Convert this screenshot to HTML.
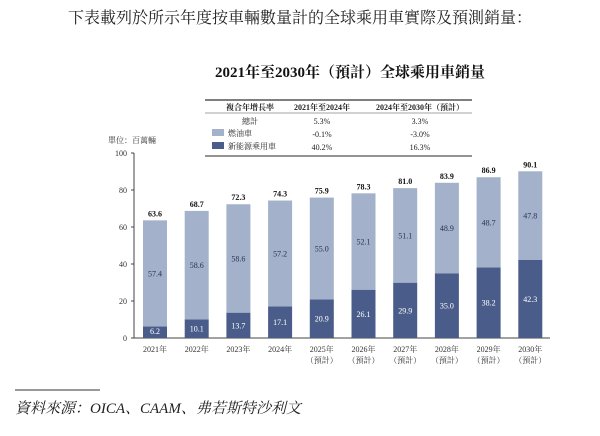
<!DOCTYPE html>
<html><head><meta charset="utf-8"><style>
body{margin:0;background:#fff;width:600px;height:431px;overflow:hidden;font-family:"Liberation Serif","Noto Serif CJK SC",serif;}
svg text{font-family:"Liberation Serif","Noto Serif CJK SC",serif;}
</style></head><body>
<svg width="600" height="431" xmlns="http://www.w3.org/2000/svg">
<text x="300" y="23" font-size="16" text-anchor="middle" fill="#222">下表載列於所示年度按車輛數量計的全球乘用車實際及預測銷量：</text>
<text x="350" y="77" font-size="15" font-weight="bold" text-anchor="middle" fill="#111">2021年至2030年（預計）全球乘用車銷量</text>
<g font-size="8" fill="#222">
<line x1="205" y1="100" x2="472" y2="100" stroke="#555" stroke-width="1.5"/>
<line x1="205" y1="113" x2="472" y2="113" stroke="#888" stroke-width="0.7"/>
<line x1="205" y1="156" x2="472" y2="156" stroke="#555" stroke-width="1.2"/>
<text x="250" y="110" text-anchor="middle" font-weight="bold">複合年增長率</text>
<text x="322" y="110" text-anchor="middle" font-weight="bold">2021年至2024年</text>
<text x="420" y="110" text-anchor="middle" font-weight="bold">2024年至2030年（預計）</text>
<text x="250" y="124" text-anchor="middle">總計</text><text x="322" y="124" text-anchor="middle">5.3%</text><text x="420" y="124" text-anchor="middle">3.3%</text>
<rect x="212" y="129" width="12" height="7" fill="#a3b1cb"/>
<text x="228" y="136">燃油車</text><text x="322" y="137" text-anchor="middle">-0.1%</text><text x="420" y="137" text-anchor="middle">-3.0%</text>
<rect x="212" y="142" width="12" height="7" fill="#4a5d8a"/>
<text x="228" y="149">新能源乘用車</text><text x="322" y="150" text-anchor="middle">40.2%</text><text x="420" y="150" text-anchor="middle">16.3%</text>
</g>
<text x="108" y="143" font-size="8" fill="#333">單位：百萬輛</text>
<g id="plot"></g>
<line x1="15" y1="390" x2="100" y2="390" stroke="#333" stroke-width="1"/>
<text x="15" y="413" font-size="15" font-style="italic" fill="#222">資料來源：OICA、CAAM、弗若斯特沙利文</text>
</svg>
<script>
const years=["2021年","2022年","2023年","2024年","2025年","2026年","2027年","2028年","2029年","2030年"];
const forecast=[false,false,false,false,true,true,true,true,true,true];
const nev=[6.2,10.1,13.7,17.1,20.9,26.1,29.9,35.0,38.2,42.3];
const fuel=[57.4,58.6,58.6,57.2,55.0,52.1,51.1,48.9,48.7,47.8];
const totals=["63.6","68.7","72.3","74.3","75.9","78.3","81.0","83.9","86.9","90.1"];
const yTicks=[0,20,40,60,80,100];
const NS="http://www.w3.org/2000/svg";
const g=document.getElementById('plot');
const y=v=>338-v*1.85, x=i=>155+i*41.7, bw=24;
function el(t,a,txt){const e=document.createElementNS(NS,t);for(const k in a)e.setAttribute(k,a[k]);if(txt!==undefined)e.textContent=txt;g.appendChild(e);return e;}
let ax=el('line',{x1:134,y1:y(100),x2:134,y2:338,stroke:'#444','stroke-width':1});


let xx=el('line',{x1:134,y1:338,x2:550,y2:338,stroke:'#444','stroke-width':1});


yTicks.forEach(v=>{
 el('line',{x1:131,x2:134,y1:y(v),y2:y(v),stroke:'#444'});
 const t=el('text',{x:127,y:y(v)+3,'font-size':8,'text-anchor':'end',fill:'#333'},v);
 
 
});
years.forEach((yr,i)=>{
 const cx=x(i);
 const d=el('rect',{x:cx-bw/2,y:y(nev[i]),width:bw,height:nev[i]*1.85,fill:'#4a5d8a'});
 
 
 const f=el('rect',{x:cx-bw/2,y:y(nev[i]+fuel[i]),width:bw,height:fuel[i]*1.85,fill:'#a3b1cb'});
 
 
 el('text',{x:cx,y:Math.min(y(nev[i]/2)+3,334),'font-size':8,'text-anchor':'middle',fill:'#fff'},nev[i].toFixed(1));
 el('text',{x:cx,y:y(nev[i]+fuel[i]/2)+3,'font-size':8,'text-anchor':'middle',fill:'#2a3350'},fuel[i].toFixed(1));
 const tl=el('text',{x:cx,y:y(nev[i]+fuel[i])-4,'font-size':8,'font-weight':'bold','text-anchor':'middle',fill:'#111'},totals[i]);
 
 
 const xl=el('text',{x:cx,y:352,'font-size':8,'text-anchor':'middle',fill:'#333'},yr);
 
 
 if(forecast[i])el('text',{x:cx,y:363,'font-size':8,'text-anchor':'middle',fill:'#333'},'（預計）');
});
</script>
</body></html>
